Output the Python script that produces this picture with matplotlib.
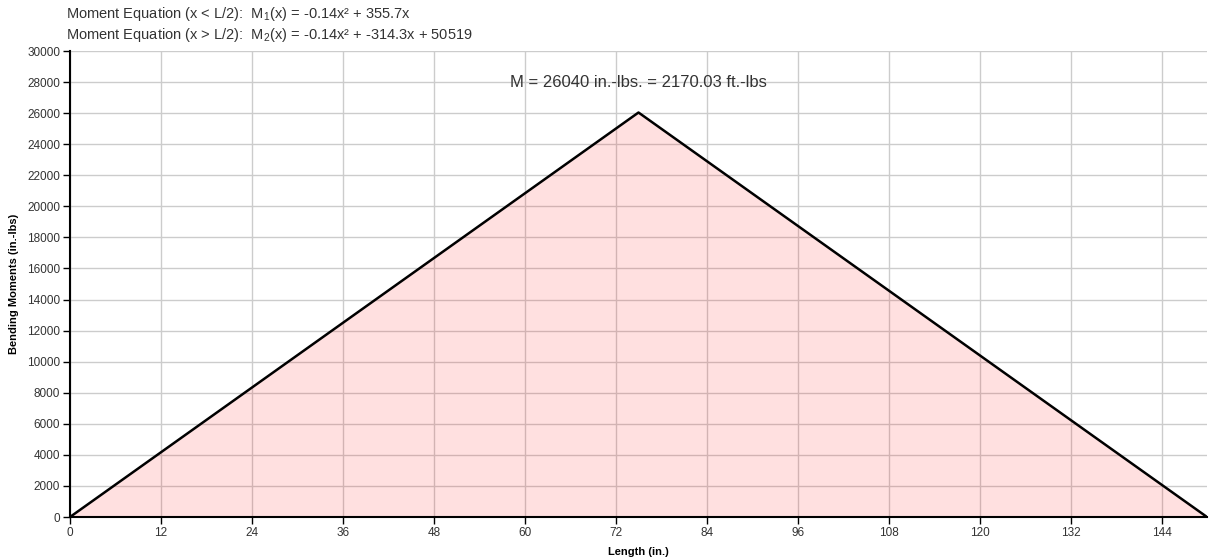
import numpy as np
import matplotlib
matplotlib.use('Agg')
import matplotlib.pyplot as plt

plt.rcParams['font.family'] = ['Liberation Sans', 'DejaVu Sans']
plt.rcParams['mathtext.fontset'] = 'custom'
plt.rcParams['mathtext.rm'] = 'Liberation Sans'

# data
length_in = [0, 75, 150]
moment = [0, 26040, 0]
x_ticks = list(range(0, 145, 12))
y_ticks = list(range(0, 30001, 2000))
eq_1 = 'Moment Equation (x < L/2):  M$_1$(x) = -0.14x² + 355.7x'
eq_2 = 'Moment Equation (x > L/2):  M$_2$(x) = -0.14x² + -314.3x + 50519'
peak_label = 'M = 26040 in.-lbs. = 2170.03 ft.-lbs'

GRID_STYLING = {
    'color': '#cccccc',
    'linestyle': '-',
    'linewidth': 1,
    'zorder': 0,
}

TEXT_COLOR = '#333333'

fig = plt.figure(figsize=(12.11, 5.6), dpi=100)
ax = fig.add_axes([70 / 1211, 1 - 517 / 560, 1137 / 1211, 466 / 560])

ax.fill_between(length_in, moment, 0, color='#ff0000', alpha=0.12, linewidth=0, zorder=1)
ax.plot(length_in, moment, color='black', linewidth=1.8, zorder=3)

ax.set_xlim(0, 150)
ax.set_ylim(0, 30000)
ax.set_xticks(x_ticks)
ax.set_yticks(y_ticks)
ax.grid(**GRID_STYLING)
ax.set_axisbelow(True)

for side in ['top', 'right']:
    ax.spines[side].set_visible(False)
for side in ['left', 'bottom']:
    ax.spines[side].set_linewidth(1.5)
    ax.spines[side].set_zorder(4)

ax.tick_params(axis='both', labelsize=8.5, length=5, width=1, colors='black',
               labelcolor=TEXT_COLOR, pad=2)

ax.set_xlabel('Length (in.)', fontsize=8, fontweight='bold', labelpad=6)
ax.set_ylabel('Bending Moments (in.-lbs)', fontsize=8, fontweight='bold', labelpad=6)

ax.text(75, 28000, peak_label, ha='center', va='center', fontsize=12, color=TEXT_COLOR, zorder=5)

fig.text(66 / 1211, 1 - 14 / 560, eq_1, ha='left', va='center', fontsize=10.5, color=TEXT_COLOR)
fig.text(66 / 1211, 1 - 35 / 560, eq_2, ha='left', va='center', fontsize=10.5, color=TEXT_COLOR)

fig.savefig('out.png', dpi=100)
